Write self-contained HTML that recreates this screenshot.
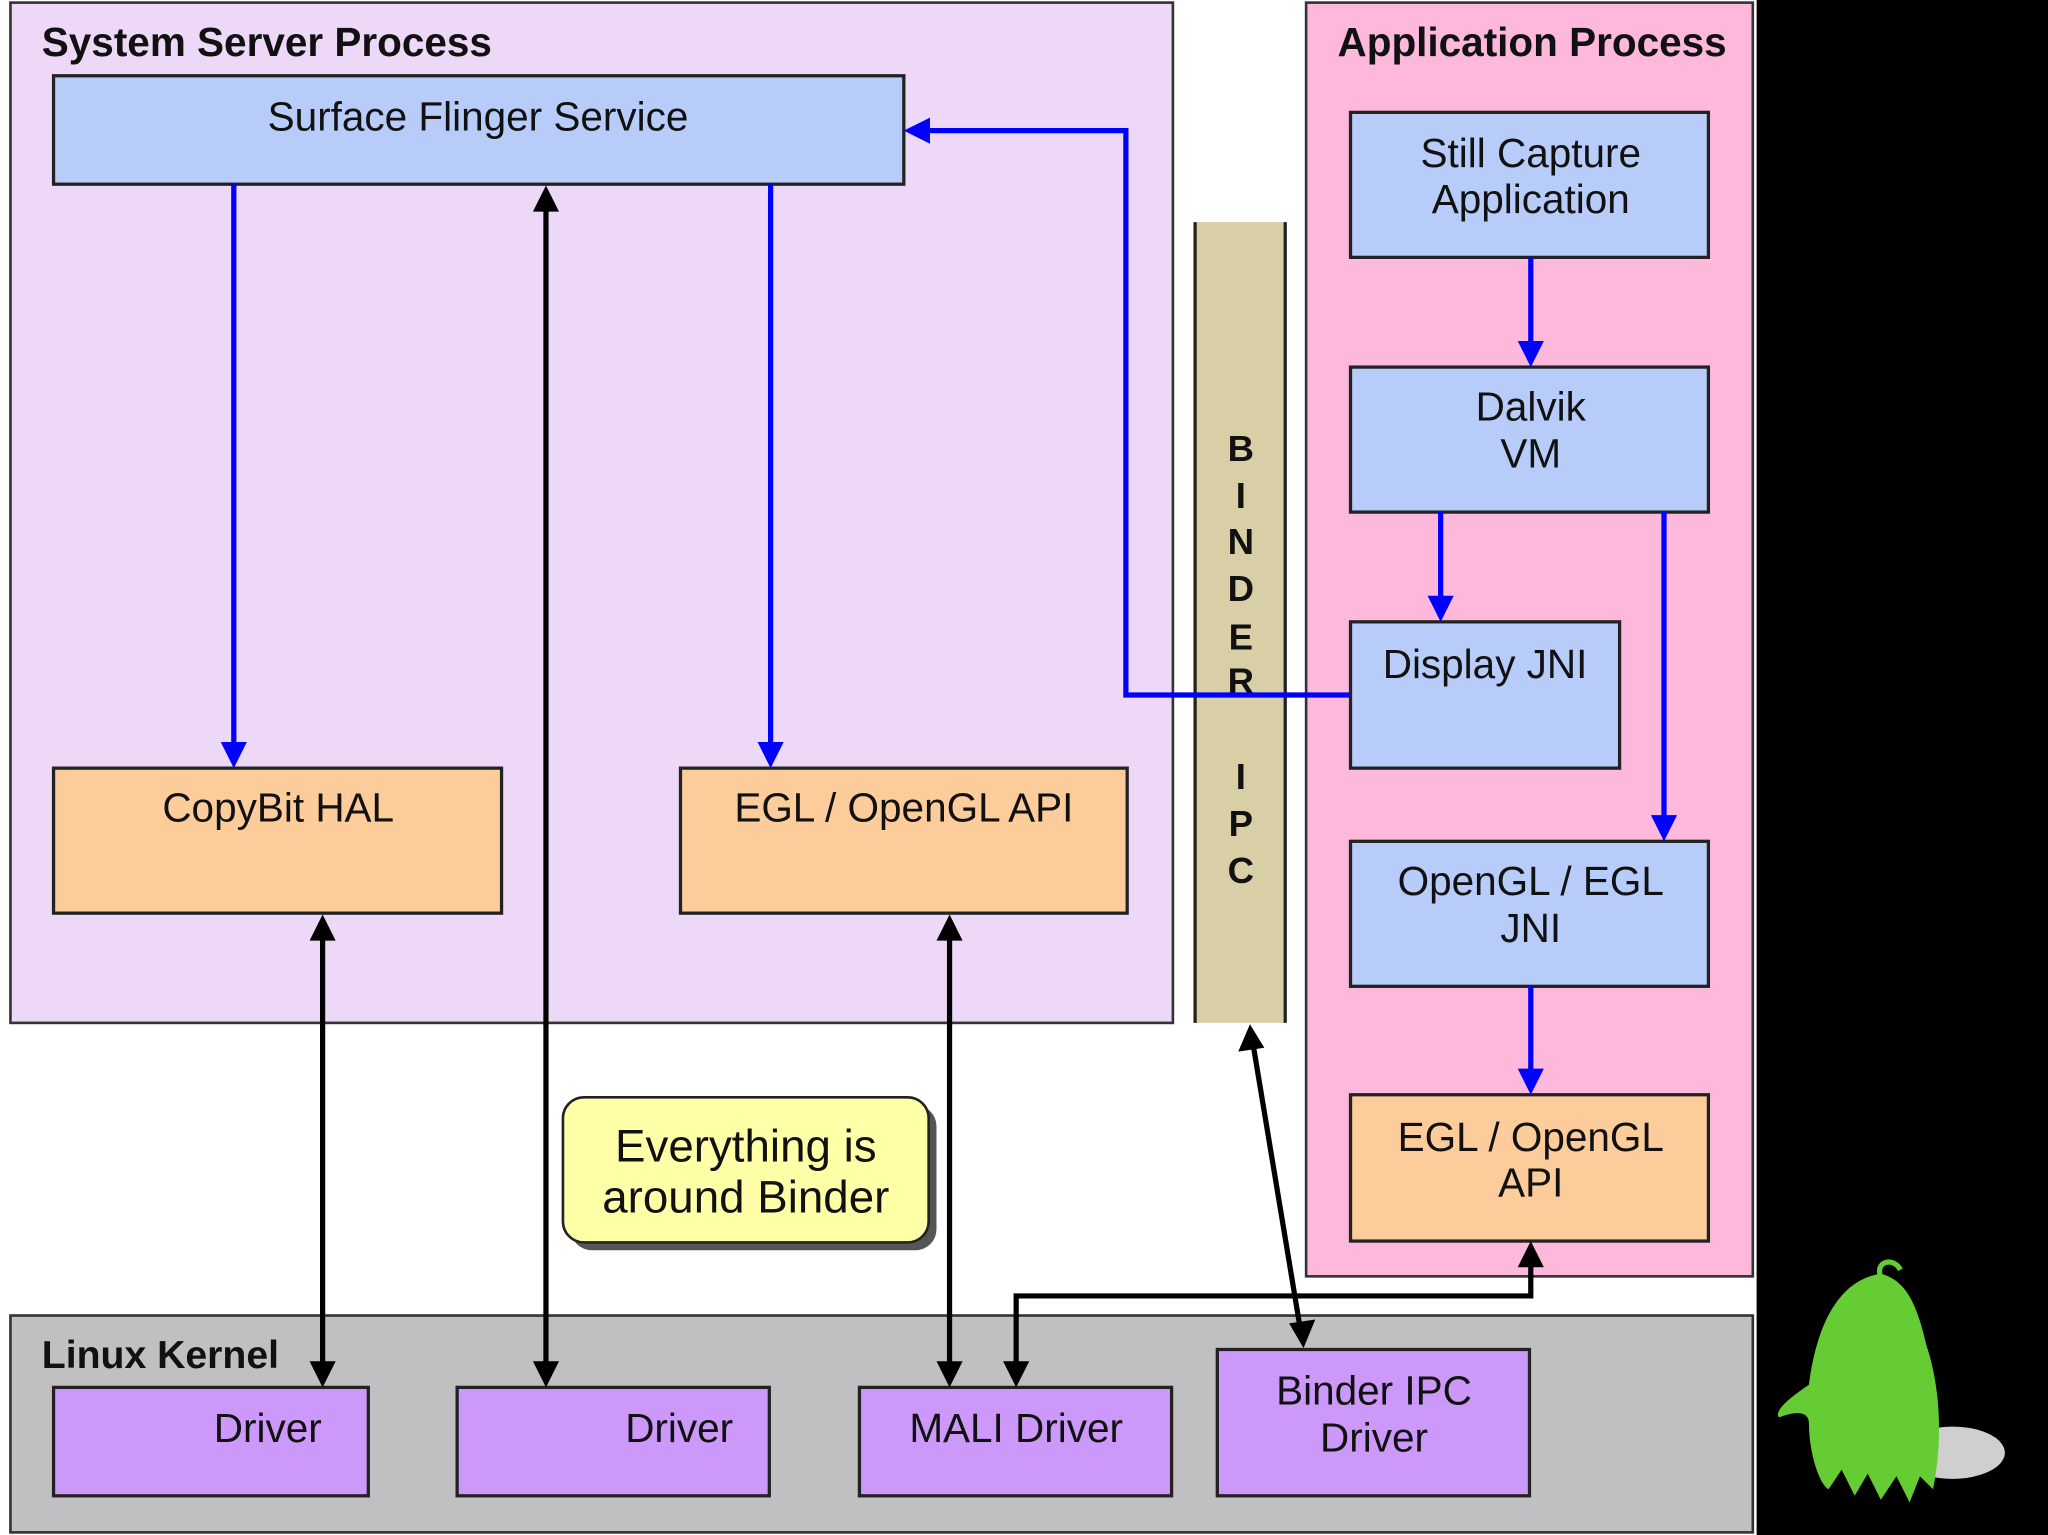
<!DOCTYPE html>
<html><head><meta charset="utf-8"><style>
html,body{margin:0;padding:0;background:#000;}
svg{display:block;}
text{font-family:"Liberation Sans",Arial,sans-serif;fill:#111;}
.b{font-weight:bold;}
</style></head><body>
<svg width="2048" height="1535" viewBox="0 0 1568 1175" preserveAspectRatio="none" xmlns="http://www.w3.org/2000/svg">
<rect x="0" y="0" width="1345" height="1175" fill="#fff"/>
<rect x="1345" y="0" width="223" height="1175" fill="#000"/>
<!-- System server -->
<rect x="8" y="2" width="890" height="781" fill="#eed8f8" stroke="#333" stroke-width="2"/>
<text x="32" y="43" font-size="31" class="b">System Server Process</text>
<rect x="41" y="58" width="651" height="83" fill="#b8ccfa" stroke="#222" stroke-width="2.5"/>
<text x="366" y="100" font-size="31" text-anchor="middle">Surface Flinger Service</text>
<rect x="41" y="588" width="343" height="111" fill="#fdcc9b" stroke="#222" stroke-width="2.5"/>
<text x="213" y="629" font-size="31" text-anchor="middle">CopyBit HAL</text>
<rect x="521" y="588" width="342" height="111" fill="#fdcc9b" stroke="#222" stroke-width="2.5"/>
<text x="692" y="629" font-size="31" text-anchor="middle">EGL / OpenGL API</text>
<!-- binder bar -->
<rect x="915" y="170" width="69" height="613" fill="#d9cfa6"/>
<line x1="915" y1="170" x2="915" y2="783" stroke="#222" stroke-width="2.5"/>
<line x1="984" y1="170" x2="984" y2="783" stroke="#222" stroke-width="2.5"/>
<g font-size="28" text-anchor="middle">
<text x="950" y="353" class="b">B</text><text x="950" y="389" class="b">I</text><text x="950" y="424" class="b">N</text><text x="950" y="460" class="b">D</text><text x="950" y="497" class="b">E</text><text x="950" y="531" class="b">R</text><text x="950" y="604" class="b">I</text><text x="950" y="640" class="b">P</text><text x="950" y="676" class="b">C</text>
</g>
<!-- app process -->
<rect x="1000" y="2" width="342" height="975" fill="#fdb8dc" stroke="#333" stroke-width="2"/>
<text x="1173" y="43" font-size="31" class="b" text-anchor="middle">Application Process</text>
<rect x="1034" y="86" width="274" height="111" fill="#b8ccfa" stroke="#222" stroke-width="2.5"/>
<text x="1172" y="128" font-size="31" text-anchor="middle">Still Capture</text>
<text x="1172" y="163" font-size="31" text-anchor="middle">Application</text>
<rect x="1034" y="281" width="274" height="111" fill="#b8ccfa" stroke="#222" stroke-width="2.5"/>
<text x="1172" y="322" font-size="31" text-anchor="middle">Dalvik</text>
<text x="1172" y="358" font-size="31" text-anchor="middle">VM</text>
<rect x="1034" y="476" width="206" height="112" fill="#b8ccfa" stroke="#222" stroke-width="2.5"/>
<text x="1137" y="519" font-size="31" text-anchor="middle">Display JNI</text>
<rect x="1034" y="644" width="274" height="111" fill="#b8ccfa" stroke="#222" stroke-width="2.5"/>
<text x="1172" y="685" font-size="31" text-anchor="middle">OpenGL / EGL</text>
<text x="1172" y="721" font-size="31" text-anchor="middle">JNI</text>
<rect x="1034" y="838" width="274" height="112" fill="#fdcc9b" stroke="#222" stroke-width="2.5"/>
<text x="1172" y="881" font-size="31" text-anchor="middle">EGL / OpenGL</text>
<text x="1172" y="916" font-size="31" text-anchor="middle">API</text>
<!-- kernel -->
<rect x="8" y="1007" width="1334" height="166" fill="#c0bfc2" stroke="#333" stroke-width="2"/>
<text x="32" y="1047" font-size="30" class="b">Linux Kernel</text>
<rect x="41" y="1062" width="241" height="83" fill="#cc99fa" stroke="#222" stroke-width="2.5"/>
<text x="205" y="1104" font-size="31" text-anchor="middle">Driver</text>
<rect x="350" y="1062" width="239" height="83" fill="#cc99fa" stroke="#222" stroke-width="2.5"/>
<text x="520" y="1104" font-size="31" text-anchor="middle">Driver</text>
<rect x="658" y="1062" width="239" height="83" fill="#cc99fa" stroke="#222" stroke-width="2.5"/>
<text x="778" y="1104" font-size="31" text-anchor="middle">MALI Driver</text>
<rect x="932" y="1033" width="239" height="112" fill="#cc99fa" stroke="#222" stroke-width="2.5"/>
<text x="1052" y="1075" font-size="31" text-anchor="middle">Binder IPC</text>
<text x="1052" y="1111" font-size="31" text-anchor="middle">Driver</text>
<!-- blue connectors -->
<g stroke="#0000ff" stroke-width="4" fill="none">
<line x1="179" y1="141" x2="179" y2="570"/>
<line x1="590" y1="141" x2="590" y2="570"/>
<polyline points="1033,532 862,532 862,100 712,100"/>
<line x1="1172" y1="197" x2="1172" y2="263"/>
<line x1="1103" y1="392" x2="1103" y2="458"/>
<line x1="1274" y1="392" x2="1274" y2="626"/>
<line x1="1172" y1="755" x2="1172" y2="820"/>
</g>
<g fill="#0000ff">
<polygon points="169,568 189,568 179,588"/>
<polygon points="580,568 600,568 590,588"/>
<polygon points="712,90 712,110 692,100"/>
<polygon points="1162,261 1182,261 1172,281"/>
<polygon points="1093,456 1113,456 1103,476"/>
<polygon points="1264,624 1284,624 1274,644"/>
<polygon points="1162,818 1182,818 1172,838"/>
</g>
<!-- black connectors -->
<g stroke="#000" stroke-width="4" fill="none">
<line x1="418" y1="160" x2="418" y2="1043"/>
<line x1="247" y1="718" x2="247" y2="1043"/>
<line x1="727" y1="718" x2="727" y2="1043"/>
<line x1="960" y1="803" x2="995" y2="1014"/>
<polyline points="1172,968 1172,992 778,992 778,1043"/>
</g>
<g fill="#000">
<polygon points="408,162 428,162 418,142"/>
<polygon points="408,1042 428,1042 418,1062"/>
<polygon points="237,720 257,720 247,700"/>
<polygon points="237,1042 257,1042 247,1062"/>
<polygon points="717,720 737,720 727,700"/>
<polygon points="717,1042 737,1042 727,1062"/>
<polygon points="768,1042 788,1042 778,1062"/>
<polygon points="1162,970 1182,970 1172,950"/>
<polygon points="948,805 968,802 957,784"/>
<polygon points="987,1013 1007,1010 998,1032"/>
</g>
<!-- note -->
<rect x="437" y="846" width="280" height="111" rx="16" fill="#555"/>
<rect x="431" y="840" width="280" height="111" rx="16" fill="#ffffa8" stroke="#222" stroke-width="2"/>
<text x="571" y="889" font-size="35" text-anchor="middle">Everything is</text>
<text x="571" y="928" font-size="35" text-anchor="middle">around Binder</text>
<!-- ghost -->
<ellipse cx="1495" cy="1112" rx="40" ry="20" fill="#cfcfcf"/>
<path d="M1440,975 C1405,980 1390,1020 1385,1060 C1370,1070 1358,1080 1362,1085 C1375,1080 1385,1080 1385,1090 C1385,1110 1392,1135 1400,1140 L1410,1125 L1420,1145 L1430,1128 L1440,1148 L1452,1130 L1462,1150 L1470,1130 L1480,1140 C1488,1100 1485,1060 1475,1030 C1468,1000 1460,980 1440,975 Z" fill="#66cc33"/>
<path d="M1440,978 C1435,965 1450,962 1455,972" stroke="#66cc33" stroke-width="4" fill="none"/>
</svg>
</body></html>
